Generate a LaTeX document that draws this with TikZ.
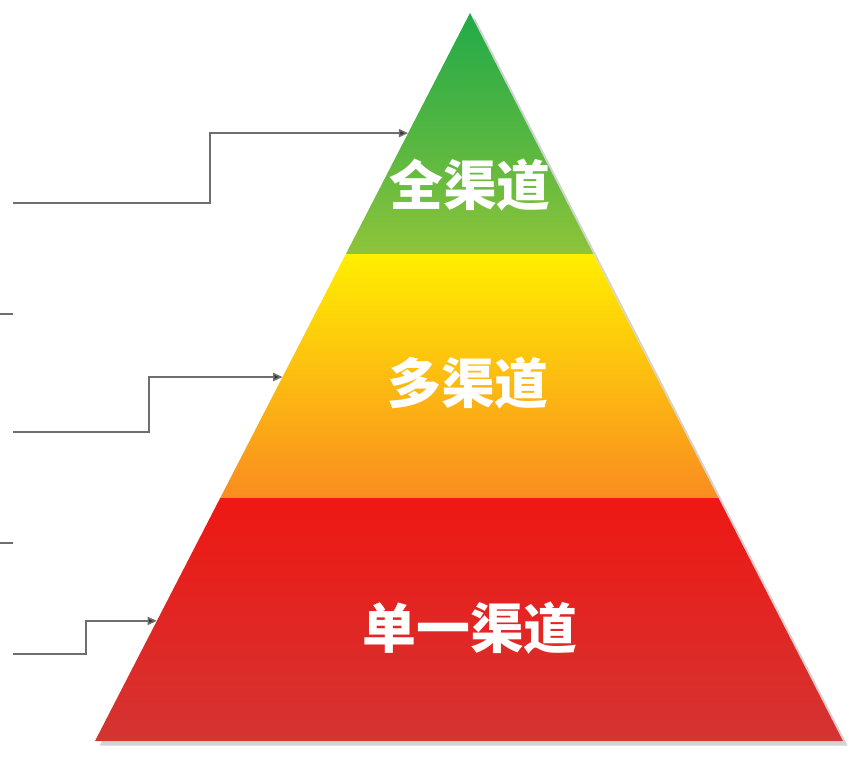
\documentclass[tikz,border=0pt]{standalone}
\usepackage{fontspec}
\usepackage{xcolor}
\usepackage{tikz}
\usetikzlibrary{positioning,arrows.meta,calc,shadows}
\newfontfamily\cjk{Noto Sans CJK SC}
\definecolor{topgreen}{RGB}{34,170,72}
\definecolor{lowgreen}{RGB}{142,196,58}
\definecolor{midyellow}{RGB}{255,238,0}
\definecolor{midamber}{RGB}{254,200,10}
\definecolor{midorange}{RGB}{250,140,32}
\definecolor{basered}{RGB}{238,24,20}
\definecolor{lowred}{RGB}{212,52,50}
\definecolor{leadgray}{RGB}{110,110,110}

\begin{document}
\begin{tikzpicture}[x=0.03cm, y=-0.03cm,
    lead/.style={draw=leadgray, line width=1.3pt},
    leadarrow/.style={lead, -{Triangle[length=8pt, width=7pt, fill=black!80]}},
    tier/.style={font=\cjk\bfseries\fontsize{46}{50}\selectfont, text=white}]
  \useasboundingbox (0,0) rectangle (851,756);
  % pyramid corners
  \coordinate (apex) at (470,13);
  \coordinate (bl) at (95,741);
  \coordinate (br) at (843,741);
  \coordinate (l1) at ($(bl)!0.334!(apex)$);
  \coordinate (r1) at ($(br)!0.334!(apex)$);
  \coordinate (l2) at ($(bl)!0.669!(apex)$);
  \coordinate (r2) at ($(br)!0.669!(apex)$);
  % shadow and bands
  \fill[white, drop shadow={shadow xshift=4pt, shadow yshift=-4pt, opacity=0.35}] (apex) -- (br) -- (bl) -- cycle;
  \shade[top color=basered, bottom color=lowred] (l1) -- (r1) -- (br) -- (bl) -- cycle;
  \shade[top color=midyellow, middle color=midamber, bottom color=midorange] (l2) -- (r2) -- (r1) -- (l1) -- cycle;
  \shade[top color=topgreen, bottom color=lowgreen, middle color=topgreen!55!lowgreen] (apex) -- (r2) -- (l2) -- cycle;
  % tier labels
  \node[tier] (quan) at (470,185) {全渠道};
  \node[tier] (duo) at (468,383) {多渠道};
  \node[tier] (dan) at (470,628) {单一渠道};
  % leader lines
  \coordinate (s1) at (0,314);
  \coordinate (e1) at (13,314);
  \coordinate (s2) at (0,543);
  \coordinate (e2) at (13,543);
  \draw[lead] (s1) -- (e1);
  \draw[lead] (s2) -- (e2);
  \coordinate (a1) at (13,203);
  \coordinate (t1) at ($(bl)!0.835!(apex)$);
  \coordinate (a2) at (13,432);
  \coordinate (t2) at ($(bl)!0.5!(apex)$);
  \coordinate (a3) at (13,654);
  \coordinate (t3) at ($(bl)!0.165!(apex)$);
  \draw[leadarrow] (a1) -- (210,203) |- (t1);
  \draw[leadarrow] (a2) -- (149,432) |- (t2);
  \draw[leadarrow] (a3) -- (86,654) |- (t3);
\end{tikzpicture}
\end{document}
